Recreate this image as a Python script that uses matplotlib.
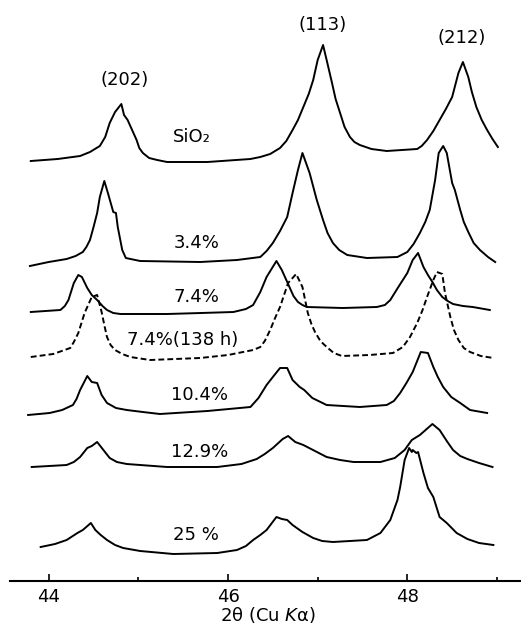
import matplotlib.pyplot as plt
from matplotlib.ticker import MultipleLocator

# 2theta (deg) / intensity (a.u., above each trace's own baseline)
sio2_x = [43.80, 44.10, 44.35, 44.46, 44.57, 44.63, 44.68, 44.74, 44.81, 44.84, 44.88, 44.93,
          44.98, 45.01, 45.05, 45.12, 45.21, 45.32, 45.77, 46.25, 46.36, 46.47, 46.58, 46.65,
          46.72, 46.78, 46.84, 46.90, 46.95, 47.00, 47.06, 47.10, 47.16, 47.20, 47.25, 47.30,
          47.36, 47.41, 47.47, 47.60, 47.77, 48.11, 48.16, 48.22, 48.29, 48.36, 48.43, 48.50,
          48.57, 48.62, 48.68, 48.72, 48.77, 48.83, 48.89, 48.95, 49.01]
sio2_y = [1, 3, 6, 10, 16, 25, 39, 50, 58, 47, 42, 32,
          22, 14, 9, 4, 2, 0, 0, 3, 5, 8, 14, 21,
          32, 42, 55, 68, 82, 102, 117, 102, 79, 63, 49, 35,
          25, 20, 17, 13, 11, 13, 16, 22, 31, 42, 53, 65,
          89, 100, 85, 70, 55, 42, 32, 23, 15]

p34_x = [43.79, 44.00, 44.20, 44.30, 44.38, 44.42, 44.46, 44.50, 44.54, 44.57, 44.62, 44.66,
         44.72, 44.75, 44.77, 44.82, 44.86, 45.02, 45.69, 46.10, 46.36, 46.43, 46.50, 46.58,
         46.66, 46.72, 46.78, 46.83, 46.91, 46.99, 47.06, 47.11, 47.17, 47.24, 47.33, 47.55,
         47.89, 48.00, 48.07, 48.14, 48.20, 48.25, 48.31, 48.35, 48.40, 48.44, 48.50, 48.53,
         48.59, 48.63, 48.68, 48.74, 48.81, 48.90, 48.98]
p34_y = [-4, 0, 3, 6, 10, 15, 22, 35, 49, 65, 81, 69,
         50, 49, 35, 12, 4, 1, 0, 2, 5, 11, 19, 31,
         45, 69, 92, 109, 89, 62, 42, 29, 19, 12, 7, 4,
         5, 10, 18, 29, 40, 52, 82, 109, 116, 109, 79, 72,
         52, 40, 30, 19, 12, 5, 0]

p74_x = [43.80, 44.13, 44.18, 44.22, 44.28, 44.33, 44.37, 44.43, 44.48, 44.54, 44.60, 44.65,
         44.72, 44.80, 45.32, 45.70, 46.06, 46.20, 46.28, 46.36, 46.43, 46.54, 46.60, 46.65,
         46.69, 46.73, 46.78, 46.83, 46.88, 47.28, 47.66, 47.75, 47.81, 47.90, 48.00, 48.06,
         48.12, 48.18, 48.23, 48.28, 48.33, 48.39, 48.45, 48.51, 48.62, 48.73, 48.92]
p74_y = [2, 4, 8, 14, 31, 39, 37, 26, 19, 14, 8, 4,
         1, 0, 0, 1, 2, 5, 9, 22, 37, 53, 44, 34,
         26, 18, 12, 9, 7, 6, 7, 9, 14, 27, 41, 54,
         61, 47, 39, 32, 24, 17, 13, 10, 8, 7, 4]

p74h_x = [43.80, 44.05, 44.24, 44.28, 44.33, 44.40, 44.48, 44.54, 44.59, 44.62, 44.65, 44.69,
          44.74, 44.82, 44.91, 45.13, 45.69, 46.00, 46.28, 46.36, 46.41, 46.47, 46.52, 46.58,
          46.67, 46.76, 46.83, 46.86, 46.89, 46.93, 46.97, 47.03, 47.10, 47.18, 47.27, 47.58,
          47.84, 47.95, 48.03, 48.11, 48.17, 48.22, 48.29, 48.33, 48.39, 48.42, 48.48, 48.52,
          48.57, 48.63, 48.70, 48.82, 48.96]
p74h_y = [3, 6, 12, 18, 27, 47, 63, 65, 48, 35, 23, 15,
          10, 6, 3, 0, 2, 5, 10, 13, 19, 30, 41, 53,
          77, 86, 73, 60, 47, 36, 28, 19, 13, 7, 4, 5,
          7, 13, 23, 37, 50, 63, 80, 88, 86, 67, 43, 30,
          20, 12, 8, 4, 2]

p104_x = [43.77, 44.01, 44.15, 44.27, 44.31, 44.35, 44.43, 44.48, 44.54, 44.59, 44.65, 44.75,
          44.87, 45.05, 45.24, 45.77, 46.25, 46.34, 46.43, 46.50, 46.58, 46.66, 46.72, 46.80,
          46.85, 46.94, 47.10, 47.47, 47.77, 47.85, 47.92, 47.99, 48.06, 48.15, 48.23, 48.29,
          48.34, 48.40, 48.49, 48.59, 48.70, 48.89]
p104_y = [-1, 1, 4, 9, 15, 24, 38, 32, 31, 19, 11, 6,
          4, 2, 0, 3, 7, 16, 29, 37, 46, 46, 34, 27,
          24, 16, 9, 7, 9, 13, 21, 31, 42, 62, 61, 47,
          37, 27, 17, 11, 4, 1]

p129_x = [43.81, 44.20, 44.28, 44.35, 44.43, 44.48, 44.54, 44.61, 44.68, 44.76, 44.87, 45.32,
          45.88, 46.15, 46.32, 46.41, 46.50, 46.61, 46.67, 46.75, 46.84, 46.97, 47.10, 47.25,
          47.40, 47.70, 47.86, 47.97, 48.05, 48.14, 48.28, 48.36, 48.44, 48.51, 48.59, 48.67,
          48.80, 48.95]
p129_y = [0, 2, 5, 10, 19, 21, 25, 17, 9, 5, 3, 0,
          0, 3, 8, 13, 19, 28, 31, 25, 22, 16, 10, 7,
          5, 5, 9, 17, 27, 32, 43, 37, 26, 17, 11, 8,
          4, 0]

p25_x = [43.91, 44.07, 44.20, 44.32, 44.38, 44.47, 44.52, 44.58, 44.65, 44.74, 44.83, 45.02,
         45.39, 45.88, 46.10, 46.20, 46.28, 46.36, 46.43, 46.54, 46.60, 46.66, 46.72, 46.83,
         46.95, 47.05, 47.17, 47.55, 47.70, 47.81, 47.89, 47.92, 47.97, 48.02, 48.05, 48.06,
         48.10, 48.12, 48.18, 48.23, 48.29, 48.36, 48.44, 48.55, 48.67, 48.80, 48.96]
p25_y = [7, 10, 14, 21, 24, 31, 24, 19, 14, 9, 6, 3,
         0, 1, 4, 8, 14, 19, 24, 37, 35, 34, 29, 22,
         16, 13, 12, 14, 21, 34, 54, 67, 94, 106, 102, 104,
         101, 102, 81, 66, 57, 37, 31, 21, 15, 11, 9]

samples = ["SiO₂", "3.4%", "7.4%", "7.4%(138 h)", "10.4%", "12.9%", "25 %"]
traces = [(sio2_x, sio2_y), (p34_x, p34_y), (p74_x, p74_y), (p74h_x, p74h_y),
          (p104_x, p104_y), (p129_x, p129_y), (p25_x, p25_y)]
offsets = [419, 319, 267, 221, 167, 114, 27]
styles = ["-", "-", "-", (0, (3, 1.6)), "-", "-", "-"]

# where each sample name sits (2theta, stacked height)
name_pos = [(45.60, 444), (45.65, 338), (45.65, 284), (45.49, 241),
            (45.68, 186), (45.68, 129), (45.64, 46)]

reflections = ["(202)", "(113)", "(212)"]
refl_pos = [(44.85, 501), (47.05, 556), (48.61, 543)]

fig = plt.figure(figsize=(5.21, 6.38), dpi=100)
ax = fig.add_axes([10 / 521, 57 / 638, 511 / 521, 581 / 638])

for (x, y), off, ls in zip(traces, offsets, styles):
    ax.plot(x, [v + off for v in y], color="black", lw=1.4, ls=ls,
            solid_joinstyle="round", dash_capstyle="butt")

for name, (tx, ty) in zip(samples, name_pos):
    ax.text(tx, ty, name, ha="center", va="center", fontsize=13, family="DejaVu Sans")
for hkl, (tx, ty) in zip(reflections, refl_pos):
    ax.text(tx, ty, hkl, ha="center", va="center", fontsize=13, family="DejaVu Sans")

ax.set_xlim(43.568, 49.268)
ax.set_ylim(0, 581)
for side in ["left", "right", "top"]:
    ax.spines[side].set_visible(False)
ax.spines["bottom"].set_linewidth(1.5)
ax.set_yticks([])
ax.xaxis.set_major_locator(MultipleLocator(2))
ax.xaxis.set_minor_locator(MultipleLocator(1))
ax.tick_params(axis="x", which="major", direction="in", length=5, width=1.2,
               labelsize=13, pad=5)
ax.tick_params(axis="x", which="minor", direction="in", length=3, width=1.2)
ax.set_xticks([44, 46, 48])
ax.set_xticklabels(["44", "46", "48"], fontfamily="DejaVu Sans")

fig.text(268 / 521, 1 - 615 / 638, "2θ (Cu $\\mathit{K}$α)", ha="center", va="center",
         fontsize=13, family="DejaVu Sans")

fig.savefig("out.png", dpi=100)
